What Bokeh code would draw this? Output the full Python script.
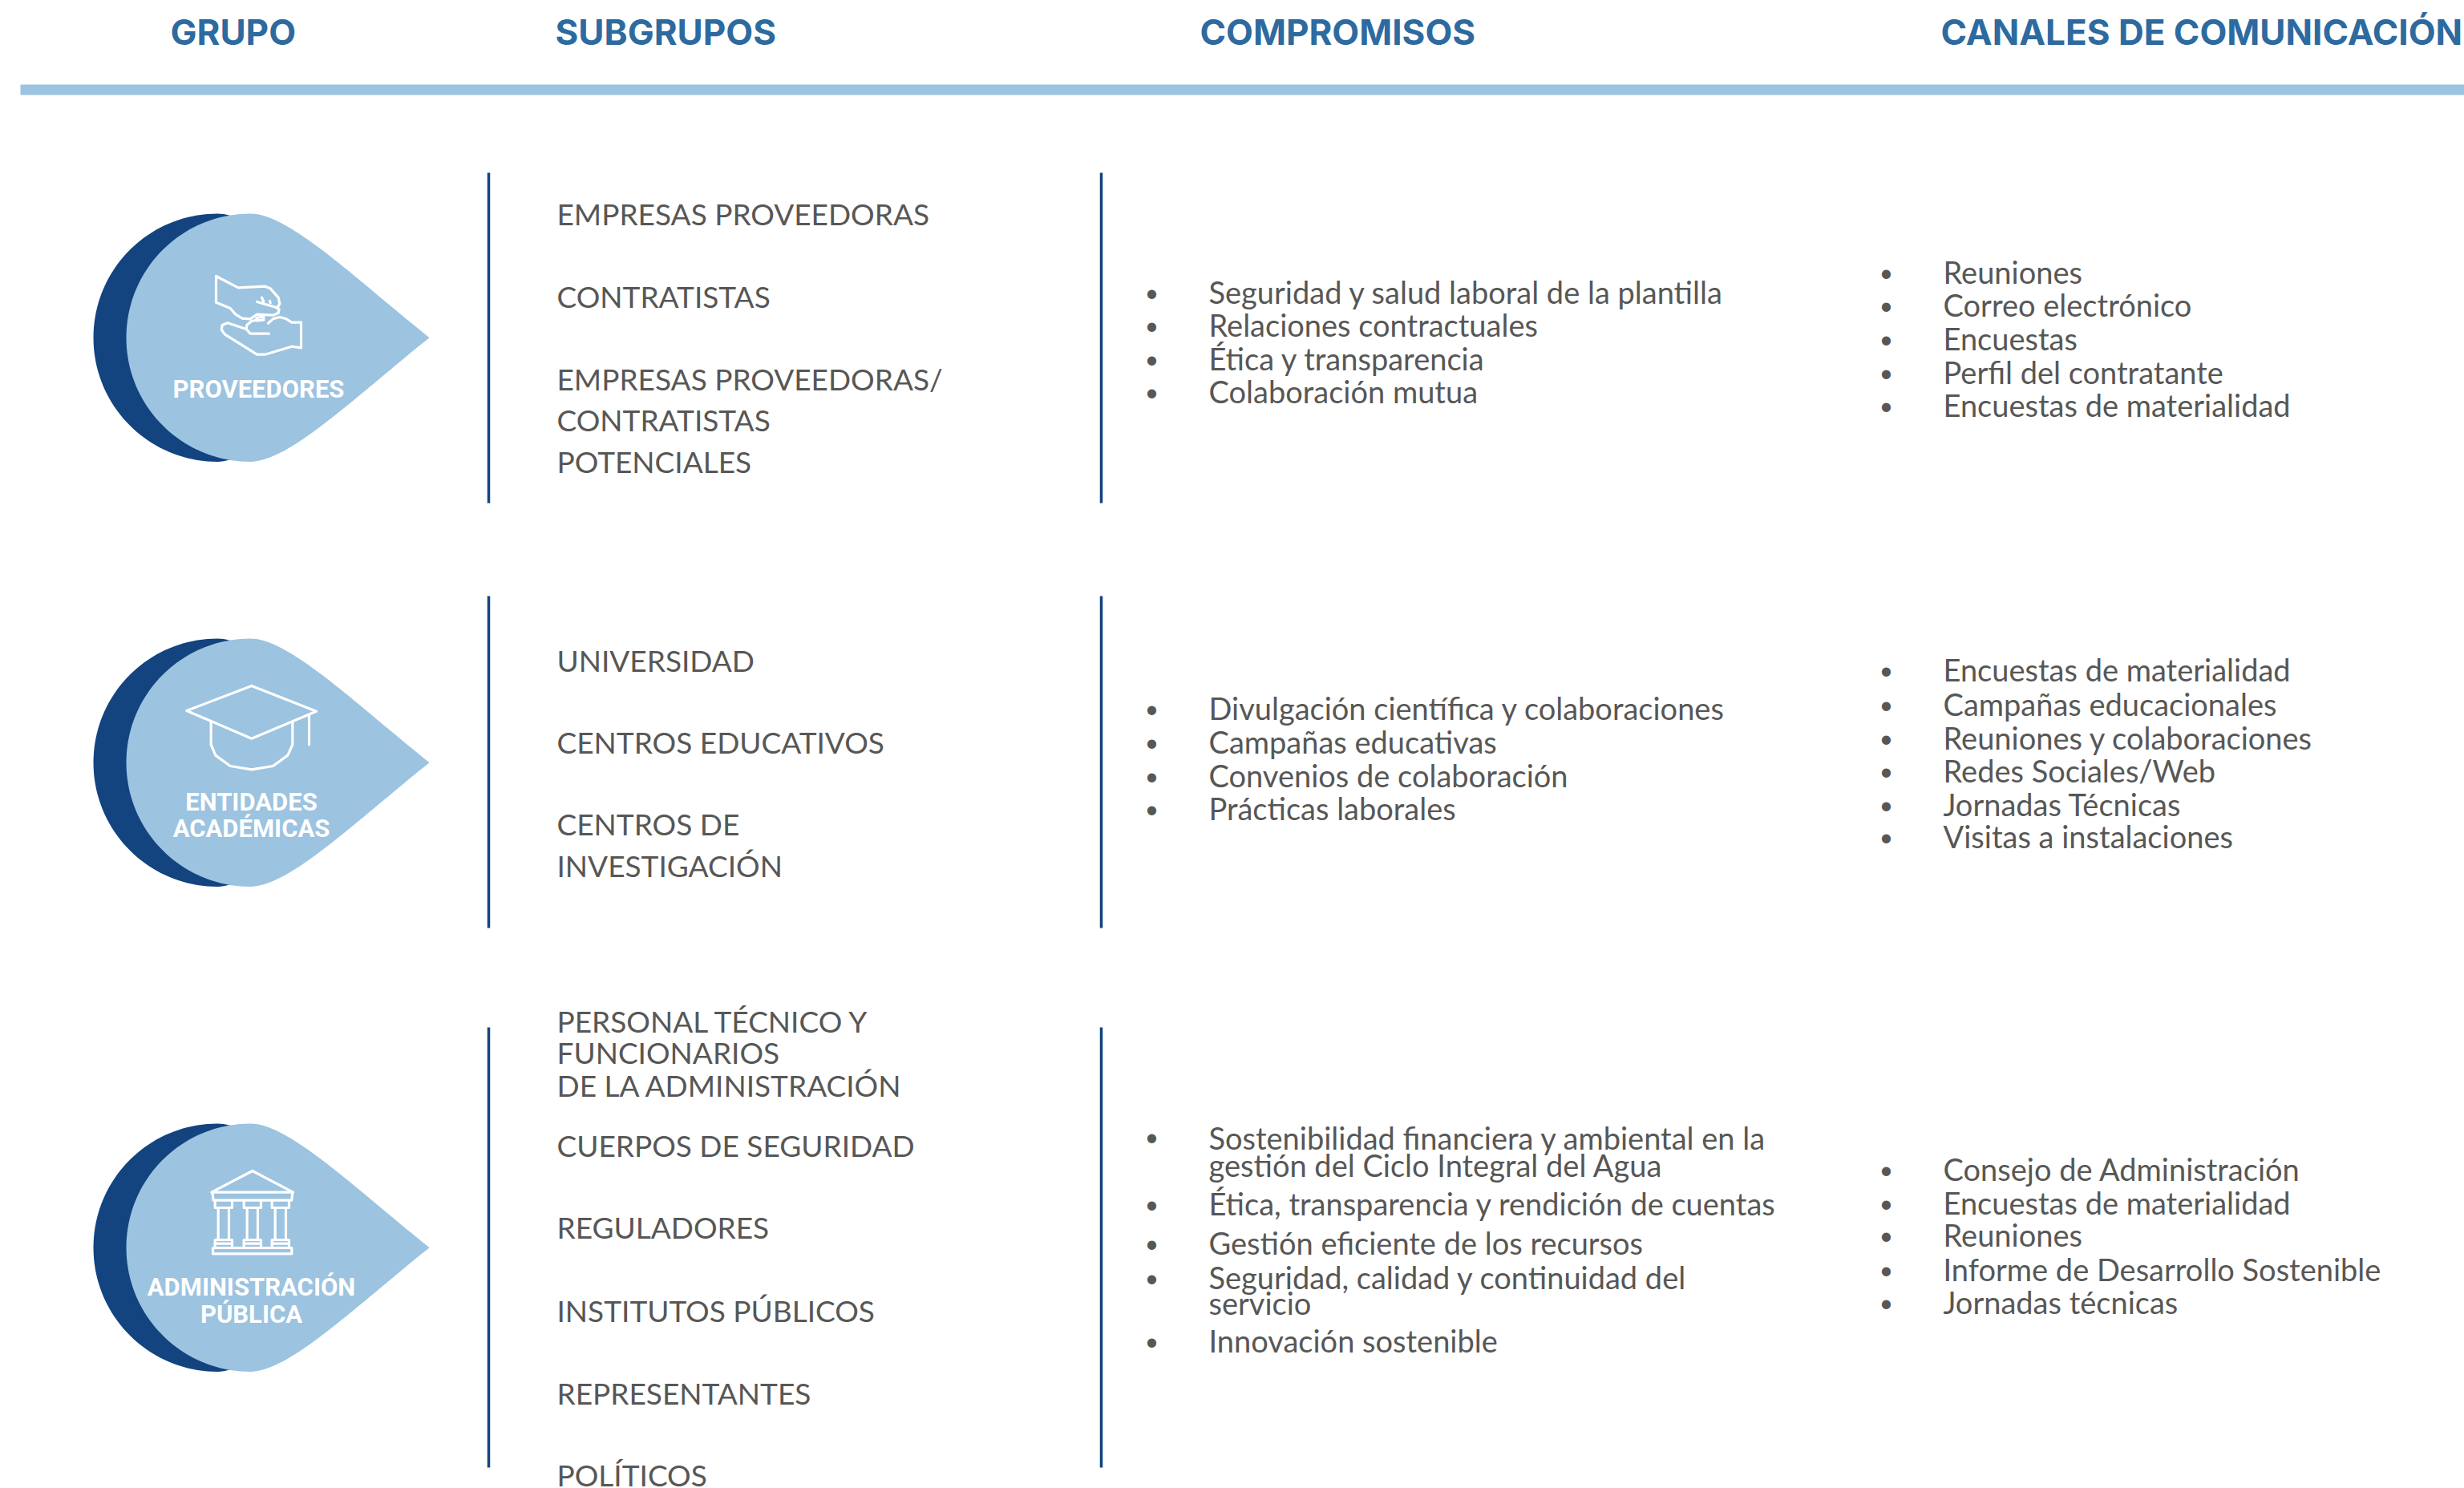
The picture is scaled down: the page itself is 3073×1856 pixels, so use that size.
from bokeh.plotting import figure
from bokeh.models import Range1d
from bokeh.core.properties import value
from bokeh.embed import file_html
from bokeh.resources import INLINE

W, H = 3073, 1856
LIGHT, DARK, HEAD, GREY = "#9cc3e0", "#134480", "#2d6aa0", "#575756"
HEAD_FONT, BODY_FONT, LABEL_FONT = "Inter", "Lato", "Roboto"

headers = ["GRUPO", "SUBGRUPOS", "COMPROMISOS", "CANALES DE COMUNICACIÓN"]
header_x = [212, 692, 1496, 2420]

labels = [["PROVEEDORES"], ["ENTIDADES", "ACADÉMICAS"], ["ADMINISTRACIÓN", "PÚBLICA"]]
label_x = [322, 313, 313]
label_y = [[497], [1012, 1045], [1617, 1651]]

subgroups = [
    ["EMPRESAS PROVEEDORAS", "CONTRATISTAS", "EMPRESAS PROVEEDORAS/", "CONTRATISTAS", "POTENCIALES"],
    ["UNIVERSIDAD", "CENTROS EDUCATIVOS", "CENTROS DE", "INVESTIGACIÓN"],
    ["PERSONAL TÉCNICO Y", "FUNCIONARIOS", "DE LA ADMINISTRACIÓN", "CUERPOS DE SEGURIDAD",
     "REGULADORES", "INSTITUTOS PÚBLICOS", "REPRESENTANTES", "POLÍTICOS"],
]
subgroup_y = [
    [280, 383, 486, 537, 589],
    [837, 939, 1041, 1093],
    [1287, 1326, 1367, 1442, 1544, 1648, 1751, 1853],
]

commitments = [
    ["Seguridad y salud laboral de la plantilla", "Relaciones contractuales", "Ética y transparencia", "Colaboración mutua"],
    ["Divulgación científica y colaboraciones", "Campañas educativas", "Convenios de colaboración", "Prácticas laborales"],
    ["Sostenibilidad financiera y ambiental en la", "gestión del Ciclo Integral del Agua",
     "Ética, transparencia y rendición de cuentas", "Gestión eficiente de los recursos",
     "Seguridad, calidad y continuidad del", "servicio", "Innovación sostenible"],
]
commitment_y = [
    [378, 419, 461, 502],
    [897, 939, 981, 1022],
    [1433, 1467, 1515, 1564, 1607, 1639, 1686],
]
commitment_bullet_y = [
    [378, 419, 461, 502],
    [897, 939, 981, 1022],
    [1431, 1515, 1564, 1607, 1686],
]

channels = [
    ["Reuniones", "Correo electrónico", "Encuestas", "Perfil del contratante", "Encuestas de materialidad"],
    ["Encuestas de materialidad", "Campañas educacionales", "Reuniones y colaboraciones",
     "Redes Sociales/Web", "Jornadas Técnicas", "Visitas a instalaciones"],
    ["Consejo de Administración", "Encuestas de materialidad", "Reuniones",
     "Informe de Desarrollo Sostenible", "Jornadas técnicas"],
]
channel_y = [
    [353, 394, 436, 478, 519],
    [849, 892, 934, 975, 1017, 1057],
    [1472, 1514, 1554, 1597, 1638],
]

rule_x = [609, 1373]
rule_top = [215, 743, 1281]
rule_bottom = [627, 1157, 1830]
drop_centre_y = [420.7, 950.7, 1555.7]

# Icon outlines, in crop pixels (1/3 page pixel) from x=80 and the block's icon origin
icon_origin_y = [240, 760, 1370]
hand_icon = [
    [(567,312),(650,355),(750,350),(770,358),(800,392),(805,415),(795,432)],
    [(567,312),(567,410),(620,432),(640,455),(665,470),(695,472),(720,455),(780,458),(800,450),(803,435),(795,430),(720,408)],
    [(738,392),(745,408)], [(768,405),(770,412)],
    [(885,485),(850,485),(830,472),(805,465),(780,472),(762,488)],
    [(885,485),(885,580),(850,575),(750,605),(720,605),(600,530),(587,512),(590,495),(610,487),(680,510)],
    [(765,527),(695,527),(680,510),(682,495),(700,480),(720,476)],
    [(718,468),(745,463),(745,476),(720,478),(718,468)],
]
cap_icon = [
    [(700,285),(942,380),(700,482),(457,378),(700,285)],
    [(548,420),(548,505),(565,545),(620,585),(700,598),(780,585),(835,545),(853,505),(853,420)],
    [(915,395),(915,505)],
]
temple_icon = [
    [(703,270),(855,350),(550,350),(703,270)],
    [(553,350),(557,380),(850,380),(853,350)],
    [(555,558),(850,558),(850,580),(555,580),(555,558)],
]
for cx in (595, 703, 808):
    temple_icon += [
        [(cx-32,382),(cx-32,408),(cx+32,408),(cx+32,382)],
        [(cx-20,408),(cx-20,527)], [(cx+20,408),(cx+20,527)],
        [(cx-32,558),(cx-32,528),(cx+32,528),(cx+32,558)],
        [(cx-32,542),(cx+32,542)],
    ]
icons = [hand_icon, cap_icon, temple_icon]

p = figure(width=W, height=H, output_backend="svg", toolbar_location=None,
           x_range=Range1d(0, W), y_range=Range1d(H, 0),
           min_border=0, outline_line_color=None, background_fill_color="white")
p.axis.visible = False
p.grid.visible = False


def drop_outline(left, cy, tip, r=154.7):
    top_x = left + r
    k = 0.5523 * r
    pts = []
    def bez(a, b, c, d, n=40):
        for i in range(n + 1):
            t = i / n
            u = 1 - t
            pts.append(tuple(u*u*u*a[j] + 3*u*u*t*b[j] + 3*u*t*t*c[j] + t*t*t*d[j] for j in (0, 1)))
    bez((left, cy), (left, cy - k), (top_x - k, cy - r), (top_x, cy - r))
    bez((top_x, cy - r), (top_x + 48, cy - r), (tip - 95, cy - 76), (tip, cy))
    bez((tip, cy), (tip - 95, cy + 76), (top_x + 48, cy + r), (top_x, cy + r))
    bez((top_x, cy + r), (top_x - k, cy + r), (left, cy + k), (left, cy))
    return [q[0] for q in pts], [q[1] for q in pts]


def txt(xs, ys, texts, font, size, color, style="normal", align="left", lift=0.39):
    ys = [y - lift * size for y in ys]
    p.text(x=xs, y=ys, text=texts, text_font=value(font), text_font_size=f"{size}px", text_color=color,
           text_font_style=style, text_align=align, text_baseline="alphabetic")


# header
txt(header_x, [56] * 4, headers, HEAD_FONT, 44, HEAD, "bold", lift=0.38)
p.quad(left=[25], right=[W], top=[105], bottom=[118], fill_color=LIGHT, line_color=None)

for i in range(3):
    cy = drop_centre_y[i]
    xs, ys = drop_outline(116, cy, 493)
    p.patch(xs, ys, fill_color=DARK, line_color=None)
    xs, ys = drop_outline(157, cy, 535)
    p.patch(xs, ys, fill_color=LIGHT, line_color=None)

    p.multi_line(xs=[[80 + q[0] / 3 for q in s] for s in icons[i]],
                 ys=[[icon_origin_y[i] + q[1] / 3 for q in s] for s in icons[i]],
                 line_color="white", line_width=3.2, line_cap="round", line_join="round")

    txt([label_x[i]] * len(labels[i]), label_y[i], labels[i], LABEL_FONT, 31, "white", "bold", "center")

    for rx in rule_x:
        p.segment(x0=[rx], x1=[rx], y0=[rule_top[i]], y1=[rule_bottom[i]], line_color=DARK, line_width=3.5)

    txt([694] * len(subgroups[i]), subgroup_y[i], subgroups[i], BODY_FONT, 37, GREY)
    txt([1507] * len(commitments[i]), commitment_y[i], commitments[i], BODY_FONT, 38, GREY)
    bullets = commitment_bullet_y[i]
    txt([1436] * len(bullets), [b - 3 for b in bullets], ["•"] * len(bullets), BODY_FONT, 30, GREY, align="center")
    txt([2423] * len(channels[i]), channel_y[i], channels[i], BODY_FONT, 38, GREY)
    txt([2352] * len(channel_y[i]), [b - 3 for b in channel_y[i]], ["•"] * len(channel_y[i]), BODY_FONT, 30, GREY, align="center")

open("out.html", "w").write(file_html(p, INLINE))
